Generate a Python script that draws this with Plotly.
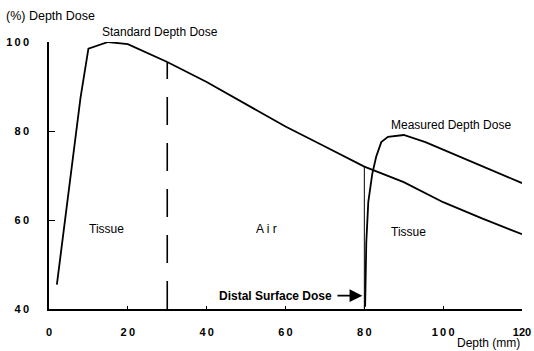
import plotly.graph_objects as go

# Data
std_depth = [2, 8, 10, 15, 20, 30, 40, 50, 60, 70, 80, 90, 100, 110, 120]
std_dose = [45.5, 87.5, 98.5, 100, 99.5, 95.5, 91, 86, 81, 76.5, 72, 68.5, 64, 60.3, 56.8]

meas_depth = [80.2, 80.5, 81, 82, 83, 84.3, 86, 90, 95.5, 100, 110, 120]
meas_dose = [40.5, 55, 64, 70.3, 74.2, 77.5, 78.7, 79.1, 77.5, 75.8, 72, 68.3]

boundary_depth = [30, 80]
boundary_top = [95.5, 72]

x_ticks = [0, 20, 40, 60, 80, 100, 120]
x_tick_labels = ["0", "2\u20090", "4\u20090", "6\u20090", "8\u20090", "1\u20090\u20090", "120"]
y_ticks = [40, 60, 80, 100]

FONT = "Liberation Sans, Arial, sans-serif"

fig = go.Figure()

# boundary at 30 mm (dashed)
fig.add_trace(go.Scatter(x=[boundary_depth[0], boundary_depth[0]], y=[40, boundary_top[0]],
                         mode="lines", line=dict(color="black", width=1.6, dash="28px,18px"),
                         showlegend=False, hoverinfo="skip"))
# boundary at 80 mm (thin solid)
fig.add_trace(go.Scatter(x=[boundary_depth[1], boundary_depth[1]], y=[40, boundary_top[1]],
                         mode="lines", line=dict(color="black", width=1),
                         showlegend=False, hoverinfo="skip"))

fig.add_trace(go.Scatter(x=std_depth, y=std_dose, mode="lines",
                         line=dict(color="black", width=1.8), showlegend=False,
                         cliponaxis=False))
fig.add_trace(go.Scatter(x=meas_depth, y=meas_dose, mode="lines",
                         line=dict(color="black", width=1.8), showlegend=False,
                         cliponaxis=False))

tickfont = dict(family=FONT, size=11, color="black", weight="bold")

fig.update_xaxes(range=[0, 120], tickvals=x_ticks, ticktext=x_tick_labels,
                 showline=True, linecolor="black", linewidth=1.5,
                 ticks="inside", ticklen=3, tickcolor="black", tickwidth=1,
                 showgrid=False, zeroline=False, tickfont=tickfont, ticklabelstandoff=12,
                 ticklabeloverflow="allow", automargin=False)
fig.update_yaxes(range=[40, 100], tickvals=y_ticks,
                 ticktext=["\u2009".join(str(v)) for v in y_ticks],
                 showline=True, linecolor="black", linewidth=1.5,
                 ticks="inside", ticklen=6, tickcolor="black", tickwidth=1.2,
                 showgrid=False, zeroline=False, tickfont=tickfont, ticklabelstandoff=16,
                 ticklabeloverflow="allow", automargin=False)

def txt(x, y, s, size=11, bold=False, xanchor="left"):
    fig.add_annotation(x=x, y=y, xref="paper", yref="paper", text=s, showarrow=False,
                       xanchor=xanchor, yanchor="middle",
                       font=dict(family=FONT, size=size, color="black",
                                 weight="bold" if bold else "normal"))

txt(-0.095, 1.097, "(%) Depth Dose", size=12.5)
txt(0.107, 1.037, "Standard Depth Dose", size=12)
txt(0.718, 0.689, "Measured Depth Dose", size=12)
txt(0.080, 0.300, "Tissue", size=12)
txt(0.434, 0.300, "A i r", size=12)
txt(0.718, 0.288, "Tissue", size=12)
txt(0.602, 0.049, "Distal Surface Dose", size=12, bold=True, xanchor="right")
txt(1.0, -0.128, "Depth (mm)", size=12, xanchor="right")

# arrow to the distal surface
fig.add_annotation(x=79.5, y=43, ax=72.8, ay=43, xref="x", yref="y", axref="x", ayref="y",
                   text="", showarrow=True, arrowhead=2, arrowsize=1.6, arrowwidth=1.6,
                   arrowcolor="black")

fig.update_layout(width=534, height=351, margin=dict(l=49, r=12, t=42, b=42),
                  plot_bgcolor="white", paper_bgcolor="white")

fig.write_html("out.html", config={"displayModeBar": False},
               post_script="document.body.style.margin='0px';document.body.style.overflow='hidden';")
